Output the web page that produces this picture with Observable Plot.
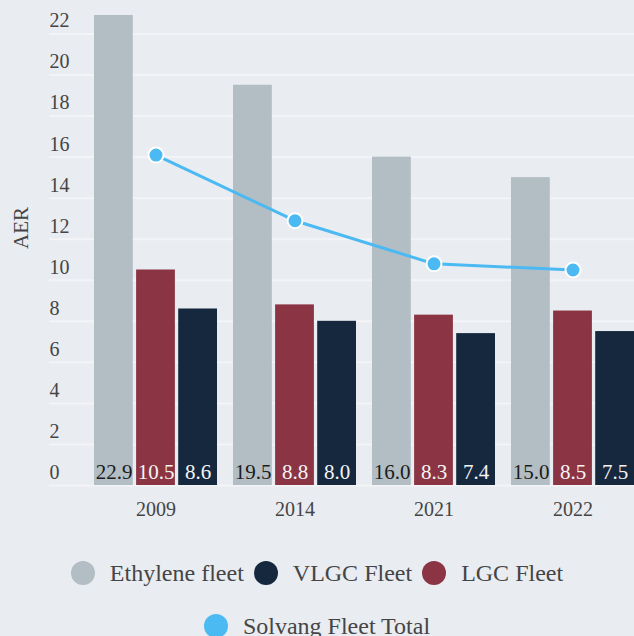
<!DOCTYPE html>
<html>
<head>
<meta charset="utf-8">
<script src="https://cdn.jsdelivr.net/npm/d3@7"></script>
<script src="https://cdn.jsdelivr.net/npm/@observablehq/plot@0.6"></script>
<style>
  html, body { margin: 0; padding: 0; background: #e9ecf1; }
  #chart { width: 634px; }
  #chart svg { display: block; }
  .legend {
    width: 634px;
    box-sizing: border-box;
    padding-top: 19px;
    display: flex;
    flex-wrap: wrap;
    justify-content: center;
    column-gap: 10px;
    row-gap: 25px;
    font-family: "Liberation Serif", serif;
    font-size: 24px;
    color: #454545;
  }
  .legend .item { display: flex; align-items: center; height: 28px; line-height: 28px; }
  .legend .sw { width: 24px; height: 24px; border-radius: 50%; margin-right: 15px; }
</style>
</head>
<body>
<div id="chart"></div>
<script>
// ---- data ----
const years = ["2009", "2014", "2021", "2022"];
const ethyleneFleet = [22.9, 19.5, 16.0, 15.0];
const lgcFleet = [10.5, 8.8, 8.3, 8.5];
const vlgcFleet = [8.6, 8.0, 7.4, 7.5];
const solvangFleetTotal = [16.1, 12.9, 10.8, 10.5];
const yTicks = [0, 2, 4, 6, 8, 10, 12, 14, 16, 18, 20, 22];
const legendLabels = ["Ethylene fleet", "VLGC Fleet", "LGC Fleet", "Solvang Fleet Total"];

// ---- styles ----
const colors = {
  "Ethylene fleet": "#b2bec4",
  "LGC Fleet": "#8b3544",
  "VLGC Fleet": "#15283e",
  "Solvang Fleet Total": "#4bb9f2"
};
const font = "Liberation Serif";

const toRows = (vals) => years.map((year, i) => ({year, value: vals[i]}));
const barSeries = [
  {name: "Ethylene fleet", rows: toRows(ethyleneFleet), insetLeft: 0, insetRight: 84.2, dx: -42, text: "#1c1c1c"},
  {name: "LGC Fleet", rows: toRows(lgcFleet), insetLeft: 42.1, insetRight: 42.1, dx: 0, text: "#f4f4f4"},
  {name: "VLGC Fleet", rows: toRows(vlgcFleet), insetLeft: 84.2, insetRight: 0, dx: 42, text: "#f4f4f4"}
];
const lineRows = toRows(solvangFleetTotal);
const fmt = d3.format(".1f");

const marks = [
  Plot.gridY(yTicks, {stroke: "#ffffff", strokeOpacity: 0.45, strokeWidth: 2}),
  ...barSeries.map(s => Plot.barY(s.rows, {
    x: "year", y: "value", fill: colors[s.name],
    insetLeft: s.insetLeft, insetRight: s.insetRight
  })),
  ...barSeries.map(s => Plot.text(s.rows, {
    x: "year", y: () => 0, text: d => fmt(d.value),
    dx: s.dx, dy: -13, fill: s.text, fontSize: 21, fontFamily: font
  })),
  Plot.line(lineRows, {x: "year", y: "value", stroke: colors["Solvang Fleet Total"], strokeWidth: 3}),
  Plot.dot(lineRows, {x: "year", y: "value", r: 7.5, fill: colors["Solvang Fleet Total"], stroke: "#ffffff", strokeWidth: 2}),
  Plot.axisY(yTicks, {anchor: "left", tickSize: 0, tickPadding: 0, textAnchor: "start", dy: -13,
    fontSize: 20, fill: "#454545", label: null}),
  Plot.text(["AER"], {frameAnchor: "left", rotate: -90, dx: -28, dy: 6, fontSize: 21, fill: "#454545", fontFamily: font}),
  Plot.axisX({anchor: "bottom", tickSize: 0, tickPadding: 16, fontSize: 20, fill: "#454545", label: null})
];

const chart = Plot.plot({
  width: 634,
  height: 540,
  marginLeft: 49,
  marginRight: 0,
  marginTop: 0,
  marginBottom: 55,
  style: {background: "transparent", fontFamily: font, color: "#454545"},
  x: {domain: years, paddingInner: 0.1156, paddingOuter: 0.1576, align: 1},
  y: {domain: [0, 23.63]},
  marks
});
document.getElementById("chart").appendChild(chart);

// ---- legend ----
const legend = d3.select("body").append("div").attr("class", "legend");
legendLabels.forEach(name => {
  const item = legend.append("div").attr("class", "item");
  item.append("div").attr("class", "sw").style("background", colors[name]);
  item.append("span").text(name);
});
</script>
</body>
</html>
